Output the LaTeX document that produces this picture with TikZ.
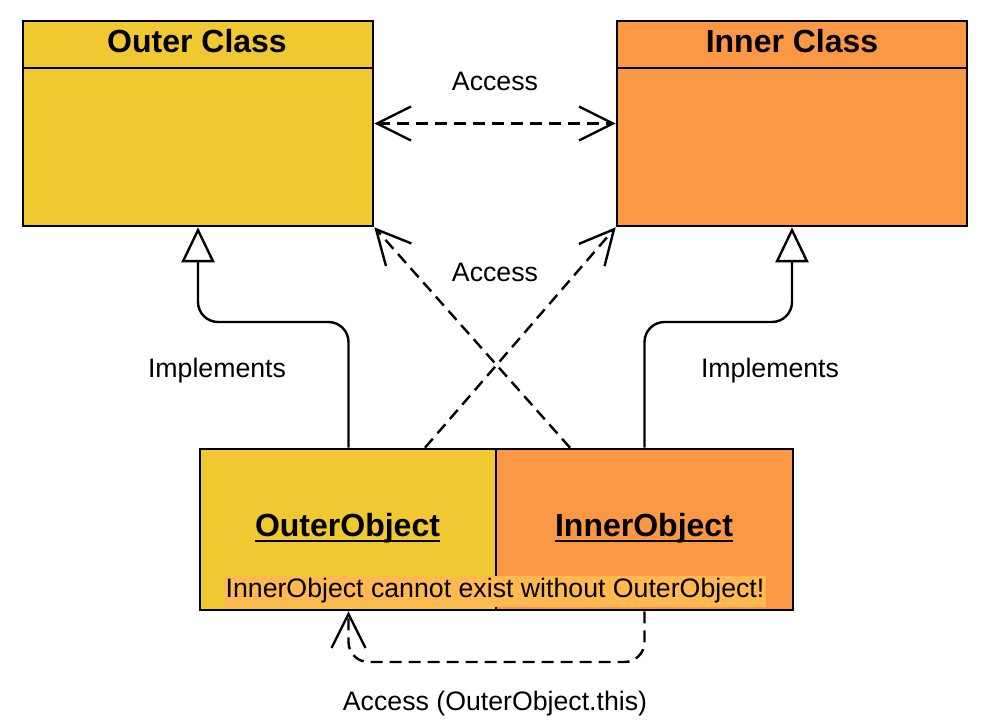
\documentclass[tikz,border=0pt]{standalone}
\usepackage{fontspec}
\setmainfont{Liberation Sans}
\usetikzlibrary{arrows.meta}
\definecolor{outerc}{HTML}{F0C832}
\definecolor{innerc}{HTML}{FA9846}
\definecolor{notec}{HTML}{FFB950}
\tikzset{
  classbox/.style={draw=black, line width=2.6pt, minimum width=350pt, minimum height=205pt, inner sep=0pt},
  objbox/.style={draw=black, line width=2.6pt, minimum width=297pt, minimum height=161pt, inner sep=0pt},
  titletxt/.style={font=\fontsize{32}{36}\selectfont\bfseries, inner sep=0pt, anchor=base},
  objtxt/.style={font=\fontsize{32}{36}\selectfont\bfseries, inner sep=0pt, anchor=base},
  lbl/.style={font=\fontsize{26.7}{30}\selectfont, inner sep=0pt, anchor=base},
  conn/.style={line width=2.4pt, black},
  impl/.style={conn, rounded corners=20pt, -{Triangle[length=35pt, width=33pt, fill=white, line width=2.4pt]}},
  acc/.style={conn, dash pattern=on 12pt off 7pt, -{Straight Barb[length=34pt, width=34pt, line width=2.4pt]}},
  accboth/.style={conn, dash pattern=on 12pt off 7pt, {Straight Barb[length=34pt, width=34pt, line width=2.4pt]}-{Straight Barb[length=34pt, width=34pt, line width=2.4pt]}},
}
\begin{document}
\begin{tikzpicture}[x=1pt, y=-1pt]
\useasboundingbox (0,0) rectangle (998,727);
% class boxes
\node[classbox, fill=outerc] (outer) at (198,123.5) {};
\node[classbox, fill=innerc] (inner) at (792,123.5) {};
\draw[line width=2.6pt] (outer.west |- 0,68) -- (outer.east |- 0,68);
\draw[line width=2.6pt] (inner.west |- 0,68) -- (inner.east |- 0,68);
\node[titletxt] (outert) at (197,53) {Outer Class};
\node[titletxt] (innert) at (792,53) {Inner Class};
% object boxes
\node[objbox, fill=outerc] (oobj) at (348.5,529.5) {};
\node[objbox, fill=innerc] (iobj) at (644.5,529.5) {};
\node[objtxt] (oot) at (347.5,536) {OuterObject};
\node[objtxt] (iot) at (644,536) {InnerObject};
\draw[line width=2pt] ([yshift=-4.5pt]oot.base west) -- ([yshift=-4.5pt]oot.base east);
\draw[line width=2pt] ([yshift=-4.5pt]iot.base west) -- ([yshift=-4.5pt]iot.base east);
\node[lbl, fill=notec, text height=21pt, text depth=10pt, inner xsep=1.5pt, inner ysep=0pt] (note) at (495,597) {InnerObject cannot exist without OuterObject!};
% implements
\coordinate (lbend) at (198,322);
\coordinate (rbend) at (792,322);
\draw[impl] (oobj.north) |- (lbend) -- (outer.south);
\draw[impl] (iobj.north) |- (rbend) -- (inner.south);
\node[lbl] (implL) at (217,377) {Implements};
\node[lbl] (implR) at (770,377) {Implements};
% access
\draw[accboth] (outer.east) -- (inner.west);
\node[lbl] (acc1) at (495,91) {Access};
\draw[acc] ([xshift=76.5pt]oobj.north) -- (inner.south west);
\draw[acc] ([xshift=-74.5pt]iobj.north) -- (outer.south east);
\node[lbl] (acc2) at (495,281) {Access};
\coordinate (bbend) at (496,662);
\draw[acc, rounded corners=20pt] (iobj.south) |- (bbend) -| (oobj.south);
\node[lbl] (acc3) at (495,710) {Access (OuterObject.this)};
\end{tikzpicture}
\end{document}
